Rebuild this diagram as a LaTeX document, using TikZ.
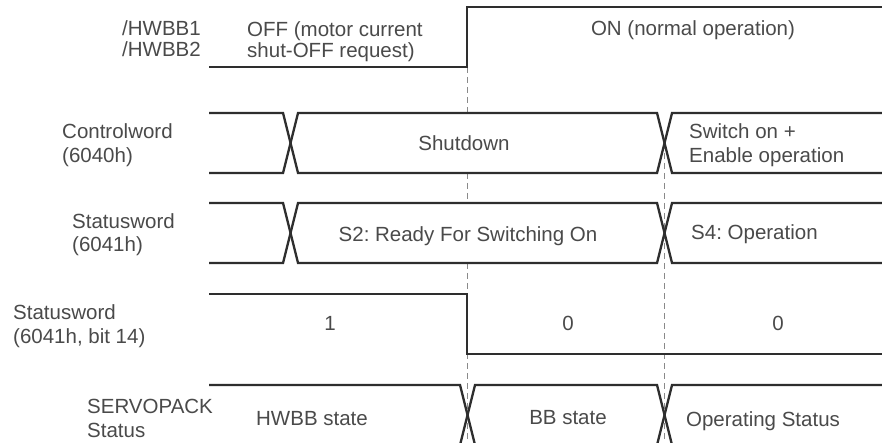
\documentclass[tikz,border=0pt]{standalone}
\usepackage{fontspec}
\setmainfont{Liberation Sans}
\frenchspacing
\definecolor{linegray}{HTML}{2E2E2E}
\definecolor{textgray}{HTML}{4A4A4A}
\definecolor{dashgray}{HTML}{8A8A8A}

\begin{document}
\begin{tikzpicture}[x=1pt, y=-1pt,
  signal/.style={line width=2.3pt, linegray},
  guide/.style={line width=1pt, dashgray, dash pattern=on 6pt off 4pt},
  lbl/.style={font=\fontsize{20.5}{24}\selectfont, text=textgray, inner sep=0pt, align=left}]
  % Page frame
  \useasboundingbox (0,0) rectangle (882,443);
  \fill[white] (0,0) rectangle (882,443);
  \clip (0,0) rectangle (882,443);

  % Dashed guides
  \draw[guide] (467,67) -- (467,113);
  \draw[guide] (467,173) -- (467,203);
  \draw[guide] (467,263) -- (467,443);
  \draw[guide] (664.5,143) -- (664.5,443);

  % /HWBB1, /HWBB2 (two-line labels sit on their last baseline)
  \draw[signal] (209,67) -- (467,67) -- (467,7) -- (890,7);
  \node[lbl, anchor=base west, font=\fontsize{20.5}{21.5}\selectfont] (hwbb) at (122,57) {/HWBB1\\/HWBB2};
  \node[lbl, anchor=base west, font=\fontsize{20.5}{21.5}\selectfont] (off) at (247,58) {OFF (motor current\\shut-OFF request)};
  \node[lbl, anchor=base] (on) at (693,36) {ON (normal operation)};

  % Controlword
  \draw[signal] (209,113) -- (283,113) -- (298,173) -- (657,173) -- (672,113) -- (890,113);
  \draw[signal] (209,173) -- (283,173) -- (298,113) -- (657,113) -- (672,173) -- (890,173);
  \node[lbl, anchor=base west] (cw) at (62,163) {Controlword\\(6040h)};
  \node[lbl, anchor=base] (shutdown) at (464,151) {Shutdown};
  \node[lbl, anchor=base west] (enable) at (689,163) {Switch on +\\Enable operation};

  % Statusword
  \draw[signal] (209,203) -- (283,203) -- (298,263) -- (657,263) -- (672,203) -- (890,203);
  \draw[signal] (209,263) -- (283,263) -- (298,203) -- (657,203) -- (672,263) -- (890,263);
  \node[lbl, anchor=base west] (sw) at (72,252) {Statusword\\(6041h)};
  \node[lbl, anchor=base] (s2) at (468,242) {S2: Ready For Switching On};
  \node[lbl, anchor=base west] (s4) at (691,240) {S4: Operation};

  % Statusword bit 14
  \draw[signal] (209,294) -- (467,294) -- (467,354) -- (890,354);
  \node[lbl, anchor=base west] (bit) at (13,343) {Statusword\\(6041h, bit 14)};
  \node[lbl, anchor=base] (one) at (330,330) {1};
  \node[lbl, anchor=base] (zeroa) at (568,330) {0};
  \node[lbl, anchor=base] (zerob) at (778,330) {0};

  % SERVOPACK status
  \draw[signal] (209,385) -- (460,385) -- (475,445) -- (657,445) -- (672,385) -- (890,385);
  \draw[signal] (209,445) -- (460,445) -- (475,385) -- (657,385) -- (672,445) -- (890,445);
  \node[lbl, anchor=base west] (sp) at (87,437) {SERVOPACK\\Status};
  \node[lbl, anchor=base] (hwbbst) at (312,425) {HWBB state};
  \node[lbl, anchor=base] (bbst) at (568,424) {BB state};
  \node[lbl, anchor=base] (opst) at (763,426) {Operating Status};
\end{tikzpicture}
\end{document}
